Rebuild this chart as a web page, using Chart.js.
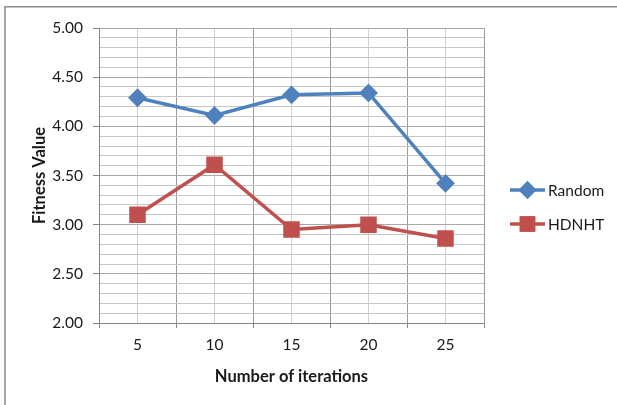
<!DOCTYPE html>
<html>
<head>
<meta charset="utf-8">
<script src="https://cdn.jsdelivr.net/npm/chart.js@4"></script>
<style>
  html, body { margin: 0; padding: 0; background: #fff; }
  #wrap { position: relative; width: 617px; height: 405px; }
</style>
</head>
<body>
<div id="wrap"><canvas id="c" width="617" height="405"></canvas></div>
<script>
// Iteration counts on the x axis
const iterations = ['5', '10', '15', '20', '25'];
// Fitness values per series
const randomFitness = [4.29, 4.11, 4.32, 4.34, 3.42];
const hdnhtFitness  = [3.10, 3.61, 2.95, 3.00, 2.86];
// Series names
const seriesNames = ['Random', 'HDNHT'];
// Value axis range
const yMin = 2.0, yMax = 5.0;

const FONT = 'Lato, "Open Sans", sans-serif';
const BLUE = '#4F81BD';
const RED = '#C0504D';

const isMajor = v => Math.abs(v * 2 - Math.round(v * 2)) < 1e-6;

// Outer frame of the chart and the side legend (line + marker + name)
const framePlugin = {
  id: 'frame',
  afterDraw(chart) {
    const ctx = chart.ctx;
    ctx.save();
    ctx.strokeStyle = '#8c8c8c';
    ctx.lineWidth = 1.5;
    ctx.beginPath();
    ctx.moveTo(5, 405);
    ctx.lineTo(5, 6.75);
    ctx.lineTo(617, 6.75);
    ctx.stroke();

    const rows = [190, 224];
    chart.data.datasets.forEach((ds, i) => {
      const y = rows[i];
      ctx.strokeStyle = ds.borderColor;
      ctx.lineWidth = 3.5;
      ctx.beginPath();
      ctx.moveTo(510, y);
      ctx.lineTo(545, y);
      ctx.stroke();
      Chart.helpers.drawPoint(ctx, {
        pointStyle: ds.pointStyle,
        radius: ds.pointStyle === 'rect' ? 8.5 : 6.5,
        rotation: 0,
        borderWidth: 1
      }, 527.5, y);
      ctx.fillStyle = ds.backgroundColor;
      ctx.strokeStyle = ds.borderColor;
      ctx.fill();
      ctx.stroke();
      ctx.fillStyle = '#1a1a1a';
      ctx.font = '15.5px ' + FONT;
      ctx.textBaseline = 'middle';
      ctx.textAlign = 'left';
      ctx.fillText(ds.label, 548, y + 1);
    });
    ctx.restore();
  }
};

new Chart(document.getElementById('c'), {
  type: 'line',
  data: {
    labels: iterations,
    datasets: [
      {
        label: seriesNames[0],
        data: randomFitness,
        borderColor: BLUE,
        backgroundColor: BLUE,
        borderWidth: 3.5,
        pointStyle: 'rectRot',
        pointRadius: 7,
        pointHoverRadius: 7,
        tension: 0
      },
      {
        label: seriesNames[1],
        data: hdnhtFitness,
        borderColor: RED,
        backgroundColor: RED,
        borderWidth: 3.5,
        pointStyle: 'rect',
        pointRadius: 9.2,
        pointHoverRadius: 9.2,
        tension: 0
      }
    ]
  },
  options: {
    responsive: false,
    animation: false,
    layout: { padding: { left: 0, right: 133, top: 28, bottom: 0 } },
    plugins: { legend: { display: false }, tooltip: { enabled: false } },
    scales: {
      x: {
        type: 'category',
        position: 'bottom',
        offset: true,
        grid: {
          offset: true,
          color: '#9a9a9a',
          tickColor: '#868686',
          tickLength: 5,
          lineWidth: 1
        },
        border: { color: '#868686', width: 1 },
        ticks: { color: '#1a1a1a', font: { family: FONT, size: 15.5 }, padding: 8, maxRotation: 0 },
        title: {
          display: true,
          text: 'Number of iterations',
          color: '#1a1a1a',
          font: { family: FONT, size: 16.5, weight: 'bold' },
          padding: { top: 0, bottom: 18 }
        },
        afterFit(s) { s.height = 82; }
      },
      // light lines through each category centre
      xc: {
        type: 'category',
        position: 'top',
        offset: true,
        grid: { offset: false, color: '#d0d0d0', drawTicks: false, lineWidth: 1 },
        border: { display: false },
        ticks: { display: false },
        afterFit(s) { s.height = 0; }
      },
      y: {
        min: yMin,
        max: yMax,
        grid: {
          color: ctx => isMajor(ctx.tick.value) ? '#a8a8a8' : '#c6c6c6',
          tickColor: ctx => isMajor(ctx.tick.value) ? '#868686' : 'rgba(0,0,0,0)',
          tickLength: 6,
          lineWidth: 1
        },
        border: { color: '#868686', width: 1 },
        ticks: {
          stepSize: 0.1,
          autoSkip: false,
          color: '#1a1a1a',
          font: { family: FONT, size: 15.5 },
          padding: 10,
          callback: v => isMajor(v) ? v.toFixed(2) : ''
        },
        title: {
          display: true,
          text: 'Fitness Value',
          color: '#1a1a1a',
          font: { family: FONT, size: 16.5, weight: 'bold' },
          padding: { top: 30, bottom: 0 }
        },
        afterFit(s) { s.width = 99; }
      }
    }
  },
  plugins: [framePlugin]
});
</script>
</body>
</html>
